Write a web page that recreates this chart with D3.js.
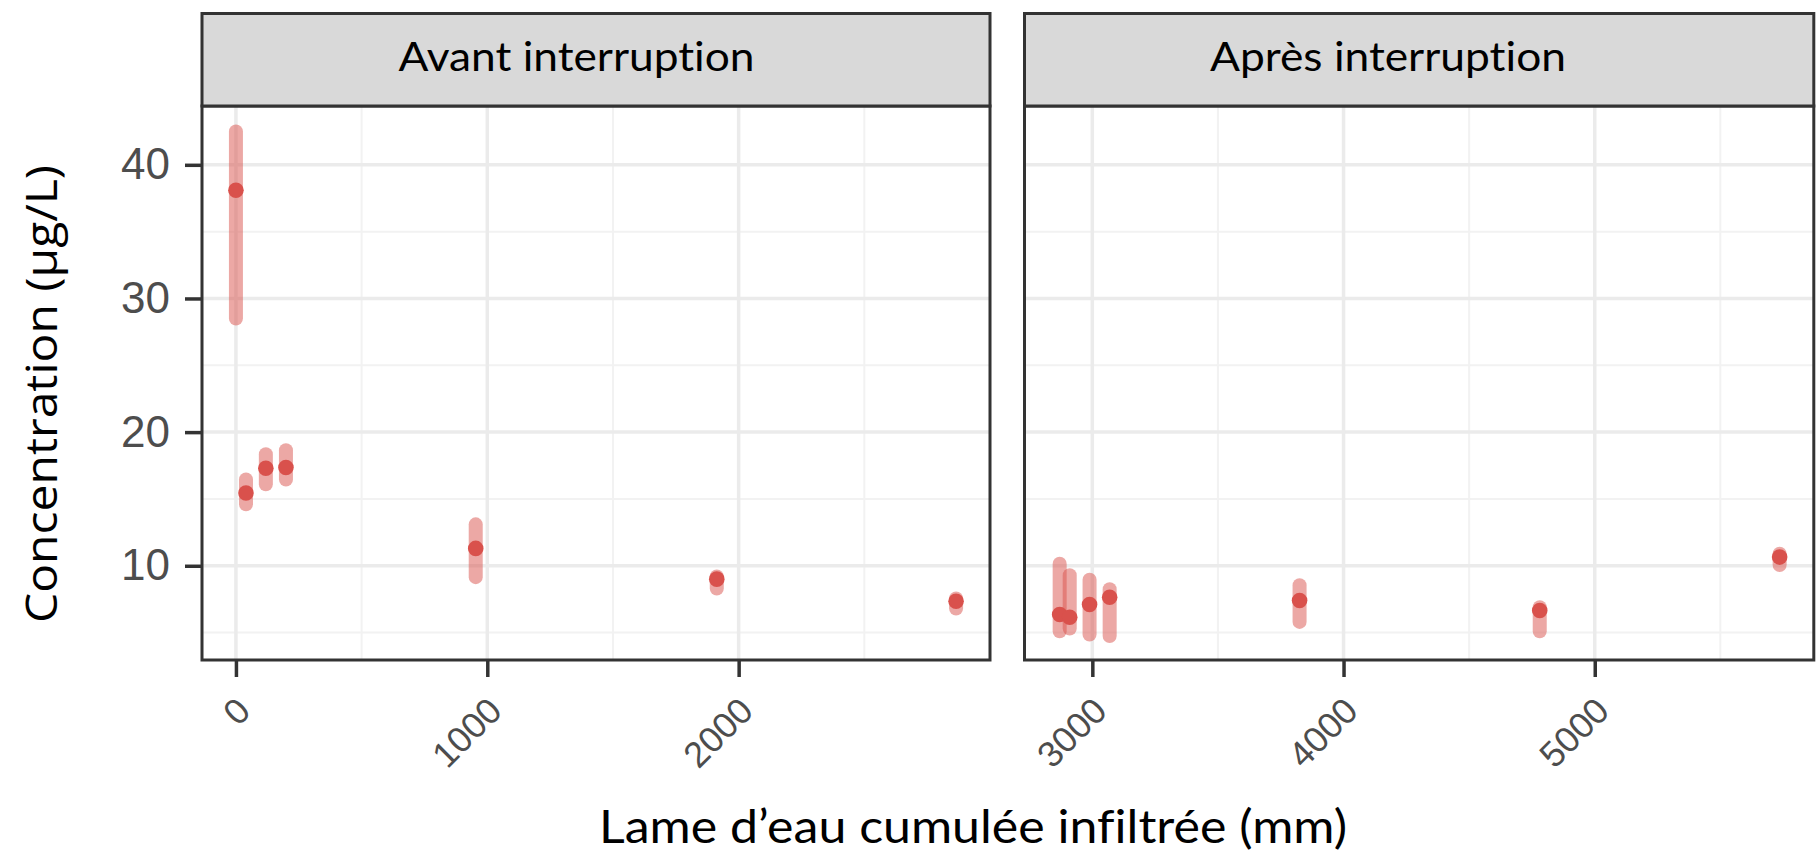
<!DOCTYPE html>
<html>
<head>
<meta charset="utf-8">
<script src="https://cdn.jsdelivr.net/npm/d3@7"></script>
<style>
  html, body { margin: 0; padding: 0; background: #ffffff; }
  svg { display: block; }
  text { font-variant-ligatures: none; font-feature-settings: "liga" 0, "clig" 0; }
</style>
</head>
<body>
<svg id="chart" width="1818" height="858"></svg>
<script>
// ---------------- data ----------------
const periodes = ["Avant interruption", "Après interruption"];

const lameAvant = [0, 40, 119, 199, 954, 1913, 2865];
const concAvant = [38.1, 15.45, 17.3, 17.35, 11.3, 9.0, 7.35];
const minAvant  = [28.5, 14.6, 16.1, 16.45, 9.15, 8.3, 6.8];
const maxAvant  = [42.5, 16.45, 18.35, 18.65, 13.1, 9.2, 7.55];

const lameApres = [2870, 2910, 2989, 3069, 3825, 4781, 5736];
const concApres = [6.35, 6.15, 7.1, 7.65, 7.4, 6.65, 10.65];
const minApres  = [5.1, 5.3, 4.85, 4.75, 5.8, 5.1, 10.05];
const maxApres  = [10.15, 9.3, 8.95, 8.25, 8.55, 6.9, 10.9];

const yTicks = [10, 20, 30, 40];
const yMinor = [5, 15, 25, 35];
const xTicksAvant = [0, 1000, 2000];
const xMinorAvant = [500, 1500, 2500];
const xTicksApres = [3000, 4000, 5000];
const xMinorApres = [2500, 3500, 4500, 5500];

const yLabel = "Concentration (µg/L)";
const xLabel = "Lame d’eau cumulée infiltrée (mm)";

// ---------------- layout ----------------
const svg = d3.select("#chart");
const panelTop = 106, panelBottom = 660, stripTop = 13.5;
const red = "#d9514c";
const dark = "#333333";

const y = d3.scaleLinear().domain([2.95, 44.4]).range([panelBottom, panelTop]);

const panels = [
  { name: periodes[0], x0: 202, x1: 990, domain: [-135, 3000], stripCx: 576.5,
    lame: lameAvant, conc: concAvant, lo: minAvant, hi: maxAvant,
    ticks: xTicksAvant, minor: xMinorAvant },
  { name: periodes[1], x0: 1024.5, x1: 1813.8, domain: [2730, 5872], stripCx: 1388,
    lame: lameApres, conc: concApres, lo: minApres, hi: maxApres,
    ticks: xTicksApres, minor: xMinorApres }
];

function fitWidth(sel, target) {
  const node = sel.node();
  const w = node.getComputedTextLength();
  if (w > 0) sel.attr("textLength", target).attr("lengthAdjust", "spacingAndGlyphs");
}

panels.forEach((p, i) => {
  const x = d3.scaleLinear().domain(p.domain).range([p.x0, p.x1]);
  const g = svg.append("g");
  const clipId = "clip" + i;
  svg.append("clipPath").attr("id", clipId).append("rect")
    .attr("x", p.x0).attr("y", panelTop).attr("width", p.x1 - p.x0).attr("height", panelBottom - panelTop);

  // background
  g.append("rect").attr("x", p.x0).attr("y", panelTop)
    .attr("width", p.x1 - p.x0).attr("height", panelBottom - panelTop).attr("fill", "#ffffff");

  const grid = g.append("g").attr("clip-path", `url(#${clipId})`);
  // minor grid
  grid.selectAll(".hmin").data(yMinor).join("line")
    .attr("x1", p.x0).attr("x2", p.x1).attr("y1", d => y(d)).attr("y2", d => y(d))
    .attr("stroke", "#f2f2f2").attr("stroke-width", 2);
  grid.selectAll(".vmin").data(p.minor).join("line")
    .attr("y1", panelTop).attr("y2", panelBottom).attr("x1", d => x(d)).attr("x2", d => x(d))
    .attr("stroke", "#f2f2f2").attr("stroke-width", 2);
  // major grid
  grid.selectAll(".hmaj").data(yTicks).join("line")
    .attr("x1", p.x0).attr("x2", p.x1).attr("y1", d => y(d)).attr("y2", d => y(d))
    .attr("stroke", "#ebebeb").attr("stroke-width", 3.5);
  grid.selectAll(".vmaj").data(p.ticks).join("line")
    .attr("y1", panelTop).attr("y2", panelBottom).attr("x1", d => x(d)).attr("x2", d => x(d))
    .attr("stroke", "#ebebeb").attr("stroke-width", 3.5);

  // data
  const data = p.lame.map((l, k) => ({ l, c: p.conc[k], lo: p.lo[k], hi: p.hi[k] }));
  const marks = g.append("g").attr("clip-path", `url(#${clipId})`);
  marks.selectAll(".bar").data(data).join("line")
    .attr("x1", d => x(d.l)).attr("x2", d => x(d.l))
    .attr("y1", d => y(d.lo)).attr("y2", d => y(d.hi))
    .attr("stroke", red).attr("stroke-opacity", 0.5)
    .attr("stroke-width", 14).attr("stroke-linecap", "round");
  marks.selectAll(".dot").data(data).join("circle")
    .attr("cx", d => x(d.l)).attr("cy", d => y(d.c)).attr("r", 7.8)
    .attr("fill", red);

  // panel border
  g.append("rect").attr("x", p.x0).attr("y", panelTop)
    .attr("width", p.x1 - p.x0).attr("height", panelBottom - panelTop)
    .attr("fill", "none").attr("stroke", dark).attr("stroke-width", 3);

  // strip
  g.append("rect").attr("x", p.x0).attr("y", stripTop)
    .attr("width", p.x1 - p.x0).attr("height", panelTop - stripTop)
    .attr("fill", "#d9d9d9").attr("stroke", dark).attr("stroke-width", 3);
  const st = g.append("text").attr("x", p.stripCx).attr("y", 71)
    .attr("text-anchor", "middle")
    .style("font-family", "Lato, 'Open Sans', sans-serif").style("font-size", "41px")
    .attr("fill", "#000").text(p.name);
  fitWidth(st, 356);

  // x axis
  const xa = g.append("g").attr("transform", `translate(0,${panelBottom})`)
    .call(d3.axisBottom(x).tickValues(p.ticks).tickSize(17).tickFormat(d3.format("d")));
  xa.select(".domain").remove();
  xa.selectAll(".tick line").attr("stroke", dark).attr("stroke-width", 3.5);
  xa.selectAll(".tick text")
    .attr("x", 16).attr("y", 53).attr("dy", 0)
    .attr("text-anchor", "end")
    .attr("transform", "rotate(-45,16,53)")
    .attr("fill", "#4d4d4d")
    .style("font-family", "'Liberation Sans', Arial, sans-serif").style("font-size", "36px");

  // y axis (left panel only)
  if (i === 0) {
    const ya = g.append("g").attr("transform", `translate(${p.x0},0)`)
      .call(d3.axisLeft(y).tickValues(yTicks).tickSize(17).tickPadding(15));
    ya.select(".domain").remove();
    ya.selectAll(".tick line").attr("stroke", dark).attr("stroke-width", 3.5);
    ya.selectAll(".tick text").attr("fill", "#4d4d4d")
      .style("font-family", "'Liberation Sans', Arial, sans-serif").style("font-size", "44px");
  }
});

// axis titles
const xt = svg.append("text").attr("x", 973).attr("y", 843).attr("text-anchor", "middle")
  .style("font-family", "Lato, 'Open Sans', sans-serif").style("font-size", "45.6px")
  .attr("fill", "#000").text(xLabel);
fitWidth(xt, 748);

const yt = svg.append("text").attr("transform", "translate(56.7,394) rotate(-90)")
  .attr("text-anchor", "middle")
  .style("font-family", "'Open Sans', sans-serif").style("font-size", "44px")
  .attr("fill", "#000").text(yLabel);
fitWidth(yt, 458);
</script>
</body>
</html>
